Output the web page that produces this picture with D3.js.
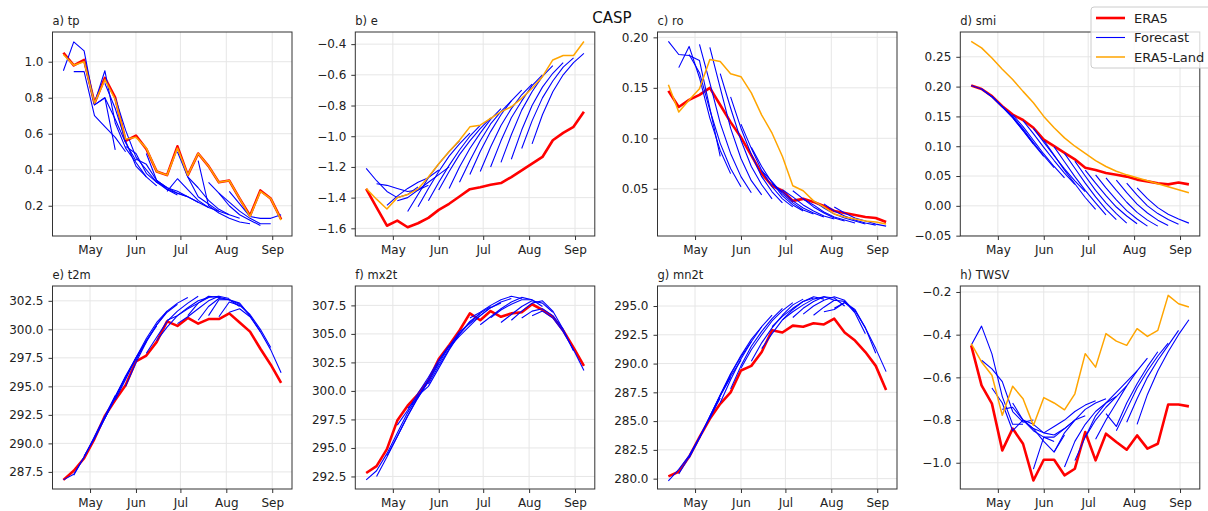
<!DOCTYPE html>
<html><head><meta charset="utf-8">
<script src="https://cdn.jsdelivr.net/npm/d3@7"></script>
<style>body{margin:0;background:#fff;} svg{display:block;font-family:"DejaVu Sans",sans-serif;}</style>
</head><body><svg id="c" width="1208" height="511"></svg>
<script>
// ---------------- data ----------------
const weeks = ["2019-04-13","2019-04-20","2019-04-27","2019-05-04","2019-05-11","2019-05-18","2019-05-25","2019-06-01","2019-06-08","2019-06-15","2019-06-22","2019-06-29","2019-07-06","2019-07-13","2019-07-20","2019-07-27","2019-08-03","2019-08-10","2019-08-17","2019-08-24","2019-08-31","2019-09-07"];
const monthTicks = ["2019-05-01","2019-06-01","2019-07-01","2019-08-01","2019-09-01"];
const panelTitles = ["a) tp","b) e","c) ro","d) smi","e) t2m","f) mx2t","g) mn2t","h) TWSV"];
const seriesNames = ["ERA5","Forecast","ERA5-Land"];
const figTitle = "CASP";

// ERA5
const era5_tp = [1.05,0.98,1.01,0.77,0.91,0.80,0.56,0.59,0.515,0.39,0.37,0.53,0.37,0.49,0.42,0.33,0.34,0.24,0.145,0.285,0.24,0.125];
const era5_e = [-1.343,-1.463,-1.583,-1.55,-1.593,-1.567,-1.532,-1.48,-1.44,-1.393,-1.345,-1.332,-1.316,-1.305,-1.266,-1.223,-1.179,-1.135,-1.026,-0.978,-0.939,-0.841];
const era5_ro = [0.147,0.131,0.138,0.143,0.150,0.133,0.116,0.101,0.083,0.065,0.053,0.048,0.038,0.040,0.037,0.033,0.028,0.026,0.024,0.022,0.021,0.017];
const era5_smi = [0.202,0.196,0.184,0.167,0.153,0.144,0.131,0.111,0.100,0.089,0.078,0.064,0.060,0.055,0.052,0.049,0.044,0.041,0.038,0.036,0.039,0.036];
const era5_t2m = [286.8,287.6,288.7,290.4,292.4,293.8,295.1,297.2,297.7,298.9,300.7,300.3,301.0,300.5,300.9,300.9,301.4,300.6,299.8,298.3,296.9,295.3];
const era5_mx2t = [292.8,293.4,294.9,297.4,298.7,299.7,300.9,302.8,304.0,305.3,306.8,306.2,307.0,306.5,306.8,306.9,307.6,307.1,306.5,305.3,303.8,302.2];
const era5_mn2t = [280.2,280.6,281.9,283.6,285.2,286.5,287.5,289.4,289.8,291.0,292.9,292.7,293.3,293.2,293.5,293.4,293.9,292.7,292.0,291.0,289.8,287.7];
const era5_twsv = [-0.45,-0.6375,-0.723,-0.942,-0.84,-0.911,-1.083,-0.986,-0.986,-1.059,-1.028,-0.856,-0.989,-0.864,-0.903,-0.939,-0.872,-0.934,-0.911,-0.727,-0.727,-0.736];

// ERA5-Land
const land_tp = [1.04,0.98,1.00,0.77,0.90,0.79,0.57,0.58,0.52,0.39,0.37,0.52,0.37,0.49,0.42,0.33,0.34,0.24,0.14,0.28,0.24,0.12];
const land_e = [-1.34,-1.41,-1.474,-1.40,-1.38,-1.343,-1.266,-1.179,-1.10,-1.026,-0.939,-0.928,-0.884,-0.841,-0.808,-0.753,-0.688,-0.612,-0.503,-0.474,-0.474,-0.383];
const land_ro = [0.153,0.126,0.138,0.149,0.178,0.176,0.164,0.161,0.145,0.123,0.105,0.082,0.053,0.048,0.038,0.032,0.025,0.022,0.020,0.018,0.017,0.015];
const land_smi = [0.276,0.265,0.248,0.229,0.212,0.192,0.173,0.150,0.131,0.114,0.100,0.088,0.076,0.066,0.058,0.052,0.047,0.042,0.037,0.032,0.027,0.022];
const land_twsv = [-0.442,-0.528,-0.59,-0.778,-0.642,-0.70,-0.825,-0.695,-0.72,-0.752,-0.677,-0.489,-0.552,-0.395,-0.43,-0.45,-0.372,-0.408,-0.38,-0.216,-0.255,-0.27];

// Forecasts: row i starts at week i, six weekly values
const fc_tp = [
[0.95,1.11,1.06,0.76,0.80,0.51],[0.945,0.945,0.70,0.64,0.58,0.50],[1.00,0.76,0.80,0.68,0.55,0.45],
[0.77,0.95,0.66,0.52,0.44,0.36],[0.88,0.74,0.56,0.42,0.36,0.31],[0.80,0.62,0.47,0.40,0.33,0.30],
[0.53,0.49,0.38,0.33,0.29,0.26],[0.46,0.43,0.34,0.30,0.27,0.25],[0.49,0.34,0.29,0.27,0.25,0.22],
[0.34,0.30,0.28,0.25,0.22,0.19],[0.28,0.35,0.29,0.23,0.19,0.17],[0.50,0.36,0.25,0.21,0.17,0.15],
[0.36,0.30,0.23,0.18,0.15,0.13],[0.45,0.20,0.16,0.13,0.11,0.10],[0.33,0.27,0.20,0.15,0.12,0.09],
[0.27,0.22,0.17,0.13,0.10,0.10],[0.28,0.21,0.14,0.13,0.13,0.15]];
const fc_e = [
[-1.21,-1.29,-1.36,-1.40,-1.38,-1.33],[-1.31,-1.32,-1.34,-1.36,-1.35,-1.32],[-1.45,-1.39,-1.34,-1.30,-1.27,-1.22],
[-1.42,-1.40,-1.35,-1.30,-1.25,-1.20],[-1.49,-1.38,-1.27,-1.18,-1.10,-1.03],[-1.46,-1.34,-1.23,-1.13,-1.05,-0.98],
[-1.42,-1.30,-1.19,-1.09,-1.00,-0.93],[-1.35,-1.23,-1.12,-1.03,-0.95,-0.88],[-1.34,-1.20,-1.08,-0.98,-0.89,-0.82],
[-1.30,-1.16,-1.03,-0.92,-0.84,-0.77],[-1.25,-1.10,-0.97,-0.86,-0.77,-0.70],[-1.23,-1.07,-0.93,-0.82,-0.73,-0.66],
[-1.20,-1.03,-0.88,-0.77,-0.67,-0.60],[-1.17,-0.99,-0.83,-0.71,-0.61,-0.54],[-1.15,-0.96,-0.80,-0.68,-0.59,-0.52],
[-1.08,-0.90,-0.75,-0.64,-0.55,-0.49],[-1.05,-0.86,-0.71,-0.60,-0.52,-0.46]];
const fc_ro = [
[0.196,0.183,0.182,0.177,0.130,0.082],[0.170,0.191,0.160,0.120,0.088,0.065],[0.183,0.165,0.128,0.095,0.070,0.052],
[0.193,0.155,0.115,0.085,0.062,0.046],[0.190,0.150,0.110,0.080,0.058,0.044],[0.164,0.130,0.098,0.072,0.054,0.040],
[0.141,0.110,0.084,0.062,0.047,0.036],[0.114,0.090,0.068,0.052,0.040,0.032],[0.091,0.072,0.056,0.043,0.034,0.028],
[0.068,0.057,0.045,0.036,0.029,0.025],[0.055,0.047,0.038,0.031,0.026,0.022],[0.049,0.042,0.034,0.028,0.023,0.020],
[0.048,0.040,0.032,0.026,0.021,0.018],[0.040,0.034,0.027,0.022,0.019,0.016],[0.038,0.031,0.025,0.021,0.018,0.015],
[0.035,0.028,0.023,0.019,0.016,0.014],[0.032,0.026,0.021,0.018,0.015,0.013]];
const fc_smi = [
[0.202,0.196,0.183,0.166,0.148,0.127],[0.196,0.183,0.166,0.148,0.126,0.104],[0.184,0.167,0.149,0.127,0.104,0.083],
[0.167,0.150,0.129,0.106,0.084,0.064],[0.153,0.133,0.110,0.087,0.066,0.047],[0.143,0.121,0.098,0.076,0.055,0.036],
[0.130,0.107,0.084,0.062,0.042,0.024],[0.110,0.085,0.060,0.037,0.014,-0.006],[0.099,0.074,0.049,0.026,0.005,-0.015],
[0.088,0.063,0.038,0.015,-0.006,-0.023],[0.075,0.050,0.026,0.005,-0.013,-0.029],[0.060,0.038,0.017,-0.002,-0.017,-0.030],
[0.052,0.030,0.010,-0.008,-0.022,-0.034],[0.047,0.026,0.006,-0.011,-0.024,-0.034],[0.043,0.022,0.003,-0.012,-0.024,-0.033],
[0.038,0.018,0.000,-0.013,-0.023,-0.031],[0.030,0.012,-0.003,-0.014,-0.022,-0.029]];
const fc_t2m = [
[286.8,287.3,288.8,290.6,292.4,294.2],[287.2,288.8,290.5,292.3,294.1,295.8],[288.9,290.4,292.2,294.0,295.8,297.4],
[290.5,292.2,294.1,295.9,297.5,298.9],[292.2,294.0,295.8,297.5,299.0,300.3],[293.8,295.6,297.5,299.2,300.6,301.6],
[295.0,297.1,298.9,300.4,301.5,302.2],[297.3,299.0,300.4,301.6,302.3,302.8],[297.9,299.3,300.7,301.6,302.3,302.9],
[299.0,300.2,301.2,301.9,302.5,302.8],[300.8,301.2,301.8,302.3,302.8,302.9],[300.5,301.1,301.8,302.5,302.9,302.7],
[301.2,302.3,302.9,302.8,302.6,302.0],[300.8,302.0,302.7,302.6,302.3,301.2],[301.2,302.6,302.6,302.2,301.2,299.8],
[301.1,302.4,302.1,301.3,300.0,298.4],[301.5,301.8,301.1,299.8,298.2,296.2]];
const fc_mx2t = [
[292.2,293.0,294.5,296.3,298.1,299.6],[292.5,294.2,296.0,297.8,299.4,300.9],[294.3,296.0,297.8,299.5,301.0,302.5],
[297.0,298.3,299.8,301.2,302.7,304.0],[298.5,299.4,300.8,302.4,303.9,305.2],[299.6,300.4,302.0,303.6,305.0,306.0],
[300.6,302.2,303.7,305.0,306.1,306.8],[302.6,303.9,305.0,306.0,306.8,307.4],[303.8,304.8,305.7,306.6,307.3,307.7],
[305.2,305.9,306.6,307.3,307.8,308.1],[306.4,306.9,307.5,308.0,308.3,308.1],[305.8,306.5,307.2,307.8,308.2,308.0],
[306.4,307.1,307.6,308.0,308.0,307.4],[306.0,306.7,307.4,307.9,307.7,306.9],[306.2,307.0,307.7,307.9,307.0,305.4],
[306.4,307.0,307.2,306.6,305.4,303.5],[306.6,307.0,306.4,305.2,303.6,301.8]];
const fc_mn2t = [
[279.8,280.8,282.0,283.6,285.3,287.0],[280.4,281.9,283.6,285.4,287.2,288.8],[281.8,283.5,285.4,287.2,288.9,290.3],
[283.5,285.4,287.3,289.1,290.6,291.9],[285.2,287.2,289.1,290.7,292.1,293.2],[286.6,288.6,290.4,291.9,293.2,294.2],
[287.8,289.8,291.5,292.8,293.9,294.8],[289.6,291.2,292.5,293.7,294.6,295.3],[290.2,291.8,293.1,294.2,295.1,295.6],
[291.3,292.6,293.8,294.7,295.4,295.7],[293.2,294.1,294.8,295.4,295.8,295.6],[293.8,294.5,295.1,295.6,295.8,295.5],
[294.0,294.8,295.4,295.8,295.7,295.0],[294.3,295.0,295.5,295.8,295.5,294.5],[294.2,294.9,295.5,295.4,294.4,292.6],
[294.5,294.7,295.3,294.7,293.1,290.9],[294.8,295.3,294.6,293.1,291.3,289.3]];
const fc_twsv = [
[-0.45,-0.36,-0.49,-0.69,-0.82,-0.82],[-0.52,-0.56,-0.62,-0.76,-0.81,-0.80],[-0.65,-0.72,-0.85,-0.80,-0.84,-0.86],
[-0.75,-0.74,-0.80,-0.85,-0.88,-0.90],[-0.72,-0.80,-0.84,-0.90,-0.95,-0.87],[-0.80,-0.82,-0.86,-0.87,-0.84,-0.80],
[-1.03,-0.88,-0.88,-0.84,-0.80,-0.78],[-0.86,-0.83,-0.80,-0.76,-0.73,-0.71],[-0.95,-0.86,-0.80,-0.75,-0.72,-0.70],
[-1.02,-0.90,-0.82,-0.76,-0.72,-0.69],[-0.99,-0.88,-0.80,-0.74,-0.69,-0.64],[-0.88,-0.78,-0.72,-0.67,-0.62,-0.57],
[-0.89,-0.80,-0.72,-0.64,-0.57,-0.51],[-0.77,-0.83,-0.72,-0.63,-0.55,-0.48],[-0.85,-0.75,-0.65,-0.57,-0.50,-0.44],
[-0.81,-0.70,-0.60,-0.52,-0.45,-0.38],[-0.82,-0.68,-0.57,-0.48,-0.40,-0.33]];

// y tick values
const ticks_tp = [0.2,0.4,0.6,0.8,1.0];
const ticks_e = [-1.6,-1.4,-1.2,-1.0,-0.8,-0.6,-0.4];
const ticks_ro = [0.05,0.10,0.15,0.20];
const ticks_smi = [-0.05,0.00,0.05,0.10,0.15,0.20,0.25];
const ticks_t2m = [287.5,290.0,292.5,295.0,297.5,300.0,302.5];
const ticks_mx2t = [292.5,295.0,297.5,300.0,302.5,305.0,307.5];
const ticks_mn2t = [280.0,282.5,285.0,287.5,290.0,292.5,295.0];
const ticks_twsv = [-1.0,-0.8,-0.6,-0.4,-0.2];

// ---------------- layout ----------------
const colors = {era5:"#ff0000", fc:"#0000ff", land:"#ffa500"};
const lefts = [52.5, 355.3, 657.5, 960.3];
const tops = [32, 286];
const pw = 239.5, ph = [204, 203];

const panels = [
 {t:panelTitles[0], era5:era5_tp,   land:land_tp,   fc:fc_tp,   dom:[0.032,1.165],   ticks:ticks_tp,   fmt:d3.format(".1f")},
 {t:panelTitles[1], era5:era5_e,    land:land_e,    fc:fc_e,    dom:[-1.650,-0.321], ticks:ticks_e,    fmt:d3.format(".1f")},
 {t:panelTitles[2], era5:era5_ro,   land:land_ro,   fc:fc_ro,   dom:[0.0032,0.2053], ticks:ticks_ro,   fmt:d3.format(".2f")},
 {t:panelTitles[3], era5:era5_smi,  land:land_smi,  fc:fc_smi,  dom:[-0.0506,0.2916],ticks:ticks_smi,  fmt:d3.format(".2f")},
 {t:panelTitles[4], era5:era5_t2m,  land:null,      fc:fc_t2m,  dom:[286.0,303.8],   ticks:ticks_t2m,  fmt:d3.format(".1f")},
 {t:panelTitles[5], era5:era5_mx2t, land:null,      fc:fc_mx2t, dom:[291.4,309.2],   ticks:ticks_mx2t, fmt:d3.format(".1f")},
 {t:panelTitles[6], era5:era5_mn2t, land:null,      fc:fc_mn2t, dom:[279.1,296.74],  ticks:ticks_mn2t, fmt:d3.format(".1f")},
 {t:panelTitles[7], era5:era5_twsv, land:land_twsv, fc:fc_twsv, dom:[-1.123,-0.172], ticks:ticks_twsv, fmt:d3.format(".1f")}
];

const parse = d3.timeParse("%Y-%m-%d");
const dates = weeks.map(parse);
const mt = monthTicks.map(parse);
const ext = d3.extent(dates);
const pad = (ext[1]-ext[0])*0.05;
const xdom = [new Date(+ext[0]-pad), new Date(+ext[1]+pad)];

const svg = d3.select("#c");
svg.append("rect").attr("width",1208).attr("height",511).attr("fill","#fff");

panels.forEach((p, idx) => {
  const col = idx % 4, row = Math.floor(idx/4);
  const L = lefts[col], T = tops[row], H = ph[row];
  const x = d3.scaleTime().domain(xdom).range([0, pw]);
  const y = d3.scaleLinear().domain(p.dom).range([H, 0]);
  const g = svg.append("g").attr("transform", `translate(${L},${T})`);
  const cid = "clip"+idx;
  g.append("clipPath").attr("id", cid).append("rect").attr("width", pw).attr("height", H);

  // grid
  g.append("g").selectAll("line").data(mt).join("line")
    .attr("x1", d=>x(d)).attr("x2", d=>x(d)).attr("y1",0).attr("y2",H)
    .attr("stroke","#e6e6e6").attr("stroke-width",1);
  g.append("g").selectAll("line").data(p.ticks).join("line")
    .attr("x1",0).attr("x2",pw).attr("y1",d=>y(d)).attr("y2",d=>y(d))
    .attr("stroke","#e6e6e6").attr("stroke-width",1);

  const line = d3.line().x(d=>x(d.date)).y(d=>y(d.v));
  const plot = g.append("g").attr("clip-path", `url(#${cid})`);

  // ERA5
  plot.append("path").datum(p.era5.map((v,i)=>({date:dates[i], v})))
    .attr("d", line).attr("fill","none").attr("stroke",colors.era5)
    .attr("stroke-width",2.6).attr("stroke-linejoin","round");
  // Forecasts
  p.fc.forEach((f, s) => {
    plot.append("path").datum(f.map((v,j)=>({date:dates[s+j], v})))
      .attr("d", line).attr("fill","none").attr("stroke",colors.fc)
      .attr("stroke-width",1.1).attr("stroke-linejoin","round");
  });
  // ERA5-Land
  if (p.land) {
    plot.append("path").datum(p.land.map((v,i)=>({date:dates[i], v})))
      .attr("d", line).attr("fill","none").attr("stroke",colors.land)
      .attr("stroke-width",1.5).attr("stroke-linejoin","round");
  }

  // axes
  const xa = d3.axisBottom(x).tickValues(mt).tickFormat(d3.timeFormat("%b")).tickSize(4).tickPadding(5);
  const ya = d3.axisLeft(y).tickValues(p.ticks).tickFormat(v => p.fmt(v).replace("-", "\u2212")).tickSize(4).tickPadding(5);
  const gx = g.append("g").attr("transform", `translate(0,${H})`).call(xa);
  const gy = g.append("g").call(ya);
  [gx, gy].forEach(a => {
    a.select(".domain").remove();
    a.selectAll(".tick line").attr("stroke","#333");
    a.selectAll("text").attr("fill","#222").style("font-size","12px").style("font-family","DejaVu Sans, sans-serif");
  });

  // frame
  g.append("rect").attr("width",pw).attr("height",H).attr("fill","none").attr("stroke","#333").attr("stroke-width",1);

  // panel title
  g.append("text").attr("x",0).attr("y",-7.5).text(p.t)
    .style("font-size","11.5px").attr("fill","#222");
});

// figure title
svg.append("text").attr("x",612).attr("y",23).attr("text-anchor","middle")
  .style("font-size","15px").attr("fill","#111").text(figTitle);

// legend
const lg = svg.append("g");
lg.append("rect").attr("x",1091).attr("y",7).attr("width",128).attr("height",61).attr("rx",3)
  .attr("fill","#fff").attr("fill-opacity",0.8).attr("stroke","#ccc");
const legendItems = [
  {name:seriesNames[0], c:colors.era5, w:2.6},
  {name:seriesNames[1], c:colors.fc, w:1.1},
  {name:seriesNames[2], c:colors.land, w:1.5}
];
legendItems.forEach((it,i)=>{
  const yy = 18 + i*19.5;
  lg.append("line").attr("x1",1096).attr("x2",1125).attr("y1",yy).attr("y2",yy)
    .attr("stroke",it.c).attr("stroke-width",it.w);
  lg.append("text").attr("x",1134).attr("y",yy+4.7).text(it.name)
    .style("font-size","13px").attr("fill","#222");
});
</script></body></html>
